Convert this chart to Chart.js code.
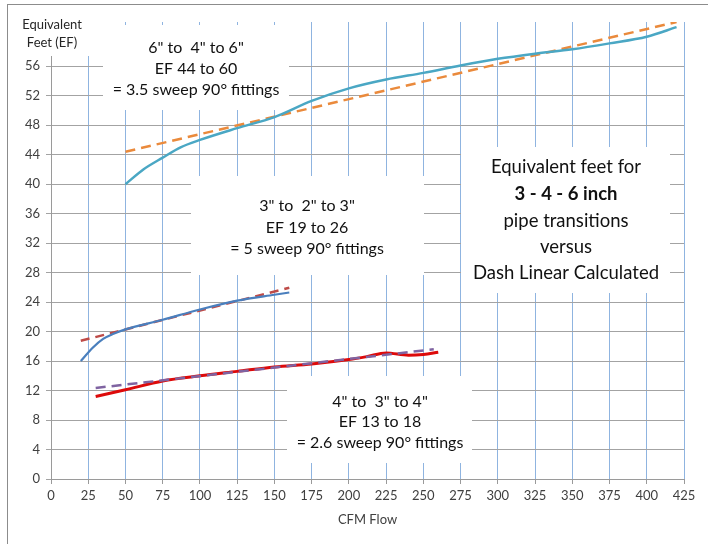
<!DOCTYPE html>
<html>
<head>
<meta charset="utf-8">
<title>Equivalent feet for pipe transitions</title>
<script src="https://cdn.jsdelivr.net/npm/chart.js@4/dist/chart.umd.min.js"></script>
<style>
  html, body { margin: 0; padding: 0; background: #fff; }
  #wrap { width: 708px; height: 544px; }
</style>
</head>
<body>
<div id="wrap"><canvas id="efChart" width="708" height="544"></canvas></div>
<script>
// ---------------- DATA ----------------
// 6" to 4" to 6"
const cfm6 = [50, 62, 75, 87, 100, 125, 150, 175, 200, 225, 250, 275, 300, 325, 350, 375, 400, 420];
const ef6 = [40.0, 42.0, 43.6, 45.0, 46.0, 47.6, 49.1, 51.3, 53.0, 54.2, 55.1, 56.1, 57.0, 57.7, 58.3, 59.1, 60.0, 61.3];
const cfm6Linear = [50, 420];
const ef6Linear = [44.4, 62.0];

// 3" to 2" to 3"
const cfm3 = [20, 28, 35, 42, 50, 75, 100, 125, 150, 160];
const ef3 = [16.0, 17.8, 19.0, 19.7, 20.3, 21.6, 23.0, 24.2, 25.0, 25.3];
const cfm3Linear = [20, 160];
const ef3Linear = [18.75, 25.95];

// 4" to 3" to 4"
const cfm4 = [30, 50, 75, 100, 125, 150, 175, 200, 212, 225, 240, 250, 260];
const ef4 = [11.2, 12.1, 13.3, 14.0, 14.6, 15.2, 15.6, 16.2, 16.6, 17.1, 16.8, 16.9, 17.2];
const cfm4Linear = [30, 257];
const ef4Linear = [12.35, 17.6];

const xTitle = "CFM Flow";
const yTitle = ["Equivalent", "Feet (EF)"];

const notes = [
  ['6" to  4" to 6"', "EF 44 to 60", "= 3.5 sweep 90° fittings"],
  ['3" to  2" to 3"', "EF 19 to 26", "= 5 sweep 90° fittings"],
  ["Equivalent feet for", "3 - 4 - 6 inch", "pipe transitions", "versus", "Dash Linear Calculated"],
  ['4" to  3" to 4"', "EF 13 to 18", "= 2.6 sweep 90° fittings"],
];

const FONT = "Lato, 'Open Sans', sans-serif";

function points(xs, ys) {
  return xs.map((x, i) => ({ x, y: ys[i] }));
}

// ---------------- TEXT BOXES ----------------
// white boxes sit over the grid like the text boxes in the sheet
const boxes = [
  { left: 12, top: 8, right: 93, bottom: 56, cx: 52, ys: [25, 43], lines: yTitle, size: 13, color: "#262626" },
  { left: 103, top: 25, right: 289, bottom: 110, cx: 196, ys: [47.7, 69, 90.3], lines: notes[0], size: 16 },
  { left: 191, top: 176, right: 424, bottom: 275, cx: 307, ys: [205.7, 227.7, 249.3], lines: notes[1], size: 16 },
  { left: 461, top: 147, right: 670, bottom: 293, cx: 566, ys: [167.3, 194, 220.7, 247.3, 273.3], lines: notes[2], size: 18.5, bold: [1] },
  { left: 287, top: 376, right: 472, bottom: 463, cx: 380, ys: [401.7, 421.7, 442.7], lines: notes[3], size: 16 },
];

const boxPlugin = {
  id: "boxes",
  beforeDraw(chart) {
    const ctx = chart.ctx;
    ctx.save();
    ctx.fillStyle = "#fff";
    ctx.fillRect(0, 0, chart.width, chart.height);
    ctx.strokeStyle = "#8c8c8c";
    ctx.lineWidth = 1;
    ctx.strokeRect(7.5, 4.5, 900, 900);
    ctx.restore();
  },
  beforeDatasetsDraw(chart) {
    const ctx = chart.ctx;
    ctx.save();
    boxes.forEach(b => {
      ctx.fillStyle = "#fff";
      ctx.fillRect(b.left, b.top, b.right - b.left, b.bottom - b.top);
      ctx.fillStyle = b.color || "#111";
      ctx.textAlign = "center";
      ctx.textBaseline = "middle";
      b.lines.forEach((line, i) => {
        const weight = b.bold && b.bold.includes(i) ? "bold " : "";
        ctx.font = `${weight}${b.size}px ${FONT}`;
        ctx.fillText(line, b.cx, b.ys[i]);
      });
    });
    ctx.restore();
  },
};

// ---------------- CHART ----------------
const solid = (label, xs, ys, color, width) => ({
  label,
  data: points(xs, ys),
  borderColor: color,
  borderWidth: width,
  pointRadius: 0,
  cubicInterpolationMode: "monotone",
  fill: false,
});

const dashed = (label, xs, ys, color, dash) => ({
  label,
  data: points(xs, ys),
  borderColor: color,
  borderWidth: 2.5,
  borderDash: dash,
  pointRadius: 0,
  fill: false,
});

new Chart(document.getElementById("efChart"), {
  type: "line",
  data: {
    datasets: [
      solid('6" to 4" to 6"', cfm6, ef6, "#4aa7c4", 2.5),
      dashed('6" linear', cfm6Linear, ef6Linear, "#ea8a3c", [10, 6]),
      solid('3" to 2" to 3"', cfm3, ef3, "#4a7fbd", 2.2),
      dashed('3" linear', cfm3Linear, ef3Linear, "#be4b48", [9, 6]),
      dashed('4" linear', cfm4Linear, ef4Linear, "#7f63a1", [10, 6]),
      solid('4" to 3" to 4"', cfm4, ef4, "#dd0a0a", 3),
    ],
  },
  options: {
    responsive: false,
    animation: false,
    layout: { padding: { top: 22, right: 24, left: 0, bottom: 0 } },
    plugins: { legend: { display: false }, tooltip: { enabled: false } },
    scales: {
      x: {
        type: "linear",
        min: 0,
        max: 425,
        ticks: { stepSize: 25, color: "#404040", font: { family: FONT, size: 13 }, padding: 4, maxRotation: 0 },
        grid: {
          color: ctx => (ctx.tick && ctx.tick.value === 0 ? "rgba(0,0,0,0)" : "#8fb4e0"),
          tickColor: "#9a9a9a",
          tickLength: 5,
        },
        border: { color: "#9a9a9a" },
        title: { display: true, text: xTitle, color: "#404040", font: { family: FONT, size: 13 }, padding: { top: 4, bottom: 16 } },
        afterFit: scale => { scale.height = 65; },
      },
      y: {
        min: 0,
        max: 62,
        afterBuildTicks: scale => { scale.ticks = scale.ticks.filter(t => t.value % 4 === 0); },
        ticks: { stepSize: 4, color: "#404040", font: { family: FONT, size: 13 }, padding: 6 },
        grid: { color: "#a3a3a3", tickColor: "#a3a3a3", tickLength: 5 },
        border: { color: "#9a9a9a" },
        afterFit: scale => { scale.width = 51; },
      },
    },
  },
  plugins: [boxPlugin],
});
</script>
</body>
</html>
